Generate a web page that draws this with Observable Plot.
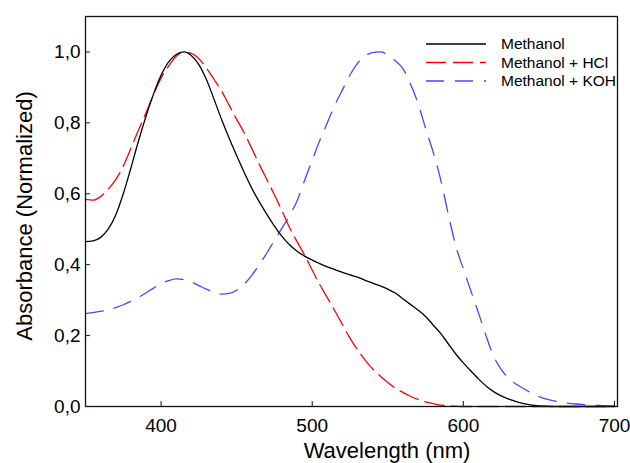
<!DOCTYPE html>
<html><head><meta charset="utf-8">
<script src="https://cdn.jsdelivr.net/npm/d3@7"></script>
<script src="https://cdn.jsdelivr.net/npm/@observablehq/plot@0.6"></script>
<style>
body{margin:0;background:#fff;}
#wrap{position:relative;width:630px;height:463px;overflow:hidden;}
</style></head><body><div id="wrap"></div>
<script>
const wavelength = [350,355,360,365,370,375,380,385,390,395,400,405,410,415,420,425,430,435,440,445,450,455,460,465,470,475,480,485,490,495,500,505,510,515,520,525,530,535,540,545,550,555,560,565,570,575,580,585,590,595,600,605,610,615,620,625,630,635,640,645,650,655,660,665,670,675,680,685,690,695,700];
const methanol = [0.465,0.467,0.477,0.500,0.540,0.600,0.672,0.748,0.818,0.881,0.934,0.972,0.993,1.000,0.990,0.964,0.922,0.867,0.810,0.757,0.708,0.660,0.616,0.577,0.542,0.509,0.480,0.456,0.438,0.424,0.413,0.403,0.394,0.386,0.378,0.371,0.365,0.356,0.348,0.340,0.331,0.320,0.304,0.288,0.272,0.254,0.230,0.206,0.177,0.148,0.123,0.100,0.078,0.058,0.042,0.030,0.021,0.014,0.008,0.004,0.002,0.001,0,0,0,0,0,0,0,0,0];
const methanolHCl = [0.584,0.582,0.592,0.613,0.640,0.678,0.728,0.779,0.828,0.880,0.926,0.960,0.988,0.999,0.996,0.981,0.955,0.923,0.890,0.850,0.810,0.772,0.728,0.683,0.640,0.597,0.552,0.505,0.465,0.427,0.385,0.344,0.307,0.270,0.231,0.193,0.160,0.131,0.106,0.086,0.068,0.052,0.040,0.029,0.020,0.013,0.008,0.004,0.002,0.001,0,0,0,0,0,0,0,0,0,0,0,0,0,0,0,0,0,0,0,0,0];
const methanolKOH = [0.262,0.265,0.268,0.273,0.279,0.287,0.297,0.308,0.320,0.334,0.346,0.355,0.360,0.358,0.351,0.341,0.331,0.322,0.317,0.319,0.328,0.345,0.370,0.400,0.433,0.468,0.503,0.538,0.580,0.638,0.694,0.750,0.800,0.850,0.893,0.935,0.968,0.989,0.998,1.000,0.992,0.975,0.953,0.910,0.855,0.785,0.718,0.640,0.543,0.453,0.388,0.326,0.264,0.200,0.142,0.105,0.080,0.063,0.050,0.038,0.028,0.021,0.016,0.012,0.009,0.007,0.005,0.004,0.003,0.002,0.002];
const seriesNames = ["Methanol", "Methanol + HCl", "Methanol + KOH"];
const seriesColors = ["#000000", "#ff0000", "#4646ff"];
const seriesDash = [null, "20,7", "18,11"];
const xTicks = [400, 500, 600, 700];
const yTicks = [0, 0.2, 0.4, 0.6, 0.8, 1.0];
const xTitle = "Wavelength (nm)";
const yTitle = "Absorbance (Normalized)";

const seriesValues = [methanol, methanolHCl, methanolKOH];
const tables = seriesValues.map(vals => wavelength.map((w, i) => ({w, a: vals[i]})));
const fmt = d => d.toFixed(1).replace(".", ",");
const font = "'Liberation Sans', Arial, Helvetica, sans-serif";

const W = 630, H = 463, mL = 85, mR = 13, mT = 16, mB = 57;
const tickLen = 5;
const frameW = W - mL - mR, frameH = H - mT - mB;

const chart = Plot.plot({
  width: W, height: H,
  marginLeft: mL, marginRight: mR, marginTop: mT, marginBottom: mB,
  style: {fontFamily: font, color: "#000", background: "#fff"},
  x: {domain: [350, 702]},
  y: {domain: [0, 1.1]},
  marks: [
    ...[2, 1, 0].map(k => Plot.line(tables[k], {x: "w", y: "a", stroke: seriesColors[k], strokeWidth: 1.3, strokeDasharray: seriesDash[k], curve: "monotone-x"})),
    Plot.frame({stroke: "#111", strokeWidth: 1.3}),
    Plot.tickX(xTicks, {x: d => d, insetTop: frameH - tickLen, stroke: "#111", strokeWidth: 1}),
    Plot.tickY(yTicks, {y: d => d, insetRight: frameW - tickLen, stroke: "#111", strokeWidth: 1}),
    Plot.axisX(xTicks, {tickSize: 0, tickPadding: 12, fontSize: 19, label: null, tickFormat: d => String(d)}),
    Plot.axisY(yTicks, {tickSize: 0, tickPadding: 5, fontSize: 19, label: null, tickFormat: fmt})
  ]
});
document.getElementById("wrap").appendChild(chart);

const svg = d3.select(chart);
svg.append("text").attr("x", 387).attr("y", 458).attr("text-anchor", "middle")
  .attr("font-family", font).attr("font-size", 22).attr("fill", "#000").text(xTitle);
svg.append("text").attr("transform", "translate(32,216) rotate(-90)").attr("text-anchor", "middle")
  .attr("font-family", font).attr("font-size", 22).attr("fill", "#000").text(yTitle);

const leg = svg.append("g").attr("font-family", font).attr("font-size", 15.5).attr("text-anchor", "start");
seriesNames.forEach((name, k) => {
  const y = 44 + k * 18.5;
  leg.append("line").attr("x1", 426).attr("x2", 486).attr("y1", y).attr("y2", y)
    .attr("stroke", seriesColors[k]).attr("stroke-width", 1.3)
    .attr("stroke-dasharray", seriesDash[k]);
  leg.append("text").attr("x", 501).attr("y", y).attr("dy", "0.35em").attr("text-anchor", "start").attr("fill", "#000").text(name);
});
</script>
</body></html>
